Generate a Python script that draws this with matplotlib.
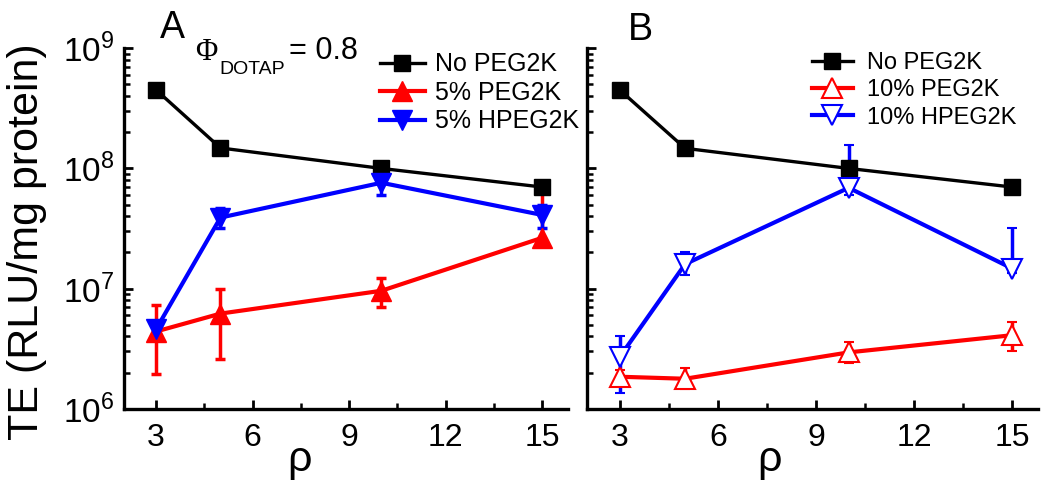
import numpy as np
import matplotlib
matplotlib.use('Agg')
import matplotlib.pyplot as plt
from matplotlib.lines import Line2D
from matplotlib.ticker import LogLocator, MultipleLocator, NullFormatter, FuncFormatter

plt.rcParams['font.family'] = ['Liberation Sans', 'DejaVu Sans']
plt.rcParams['mathtext.fontset'] = 'custom'
plt.rcParams['mathtext.rm'] = 'Liberation Sans'

rho = [3, 5, 10, 15]

# panel A
none_A = [4.5e8, 1.48e8, 1.0e8, 7.0e7]
none_A_lo = [4.1e8, 1.35e8, 0.93e8, 6.5e7]
none_A_hi = [4.9e8, 1.62e8, 1.08e8, 7.6e7]
peg5 = [4.4e6, 6.2e6, 9.6e6, 2.65e7]
peg5_lo = [1.95e6, 2.6e6, 7.1e6, 2.5e7]
peg5_hi = [7.3e6, 1.0e7, 1.22e7, 6.2e7]
hpeg5 = [4.6e6, 3.9e7, 7.6e7, 4.1e7]
hpeg5_lo = [4.0e6, 3.2e7, 6.0e7, 3.2e7]
hpeg5_hi = [5.2e6, 4.7e7, 9.3e7, 5.0e7]

# panel B
none_B = [4.5e8, 1.47e8, 1.0e8, 7.0e7]
none_B_lo = [4.1e8, 1.33e8, 0.88e8, 6.4e7]
none_B_hi = [4.9e8, 1.6e8, 1.12e8, 7.6e7]
peg10 = [1.85e6, 1.78e6, 2.95e6, 4.1e6]
peg10_lo = [1.55e6, 1.45e6, 2.4e6, 3.0e6]
peg10_hi = [2.1e6, 2.2e6, 3.6e6, 5.3e6]
hpeg10 = [2.7e6, 1.6e7, 6.9e7, 1.47e7]
hpeg10_lo = [1.35e6, 1.3e7, 6.0e7, 1.35e7]
hpeg10_hi = [4.0e6, 2.0e7, 1.58e8, 3.2e7]

xticks = [3, 6, 9, 12, 15]


def yerr(v, lo, hi):
    v = np.array(v)
    return [v - np.array(lo), np.array(hi) - v]


fig = plt.figure(figsize=(10.5, 4.92), dpi=100)
axA = fig.add_axes([0.118, 0.169, 0.423, 0.733])
axB = fig.add_axes([0.559, 0.169, 0.430, 0.733])

ekw = dict(elinewidth=2.5, capsize=3.6, capthick=2.5)
blk = dict(color='black', marker='s', ms=11, lw=2.4)
red = dict(color='#ff0000', marker='^', ms=15, lw=3)
blu = dict(color='#0000ff', marker='v', ms=15, lw=3)
opn = dict(mfc='white', mew=1.5)

axA.errorbar(rho, none_A, yerr=yerr(none_A, none_A_lo, none_A_hi), **blk, **ekw)
axA.errorbar(rho, peg5, yerr=yerr(peg5, peg5_lo, peg5_hi), **red, **ekw)
axA.errorbar(rho, hpeg5, yerr=yerr(hpeg5, hpeg5_lo, hpeg5_hi), **blu, **ekw)

axB.errorbar(rho, none_B, yerr=yerr(none_B, none_B_lo, none_B_hi), **blk, **ekw)
axB.errorbar(rho, peg10, yerr=yerr(peg10, peg10_lo, peg10_hi), **red, **opn, **ekw)
axB.errorbar(rho, hpeg10, yerr=yerr(hpeg10, hpeg10_lo, hpeg10_hi), **blu, **opn, **ekw)

for ax in (axA, axB):
    ax.set_yscale('log')
    ax.set_ylim(1e6, 1e9)
    ax.set_xlim(2, 15.8)
    ax.set_xticks(xticks)
    ax.xaxis.set_minor_locator(MultipleLocator(1.5))
    ax.yaxis.set_major_locator(LogLocator(base=10, numticks=10))
    ax.yaxis.set_major_formatter(FuncFormatter(lambda v, p: r'$10^{%d}$' % round(np.log10(v))))
    ax.yaxis.set_minor_locator(LogLocator(base=10, subs=np.arange(2, 10), numticks=20))
    ax.yaxis.set_minor_formatter(NullFormatter())
    for s in ('top', 'right'):
        ax.spines[s].set_visible(False)
    for s in ('left', 'bottom'):
        ax.spines[s].set_linewidth(2.4)
    ax.tick_params(which='major', direction='in', length=6.5, width=2)
    ax.tick_params(which='minor', direction='in', length=4.5, width=1.8)
    ax.tick_params(axis='x', which='major', labelsize=23, pad=10)
    ax.tick_params(axis='y', which='major', labelsize=24, pad=7)

axB.tick_params(axis='y', which='both', labelleft=False)

hA = [Line2D([], [], **blk), Line2D([], [], **red), Line2D([], [], **blu)]
axA.legend(hA, ['No PEG2K', '5% PEG2K', '5% HPEG2K'], loc='upper left',
           bbox_to_anchor=(0.553, 1.016), frameon=False, fontsize=18,
           handlelength=1.8, handletextpad=0.4, labelspacing=0.18, borderaxespad=0)
hB = [Line2D([], [], **blk), Line2D([], [], **red, **opn), Line2D([], [], **blu, **opn)]
axB.legend(hB, ['No PEG2K', '10% PEG2K', '10% HPEG2K'], loc='upper left',
           bbox_to_anchor=(0.477, 1.015), frameon=False, fontsize=17,
           handlelength=1.75, handletextpad=0.6, labelspacing=0.22, borderaxespad=0)

fig.text(27 / 1050, 1 - 242 / 492, 'TE (RLU/mg protein)', rotation=90,
         fontsize=31, ha='center', va='center')
fig.text(300 / 1050, 1 - 460 / 492, 'ρ', fontsize=31, ha='center', va='center')
fig.text(770 / 1050, 1 - 460 / 492, 'ρ', fontsize=31, ha='center', va='center')
fig.text(172 / 1050, 1 - 28 / 492, 'A', fontsize=27, ha='center', va='center')
fig.text(640 / 1050, 1 - 30 / 492, 'B', fontsize=27, ha='center', va='center')

fig.text(206 / 1050, 1 - 53 / 492, 'Φ', fontsize=22, ha='center', va='center',
         family=['Liberation Serif', 'DejaVu Serif'])
fig.text(219 / 1050, 1 - 70 / 492, 'DOTAP', fontsize=14, ha='left', va='center')
fig.text(289 / 1050, 1 - 51 / 492, '= 0.8', fontsize=22, ha='left', va='center')

fig.savefig('out.png', dpi=100)
